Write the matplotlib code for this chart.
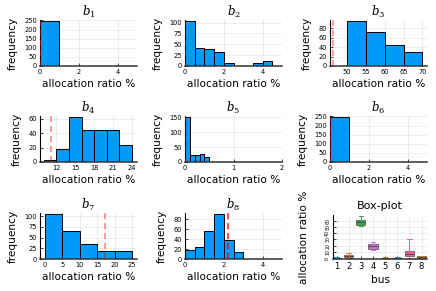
import matplotlib
matplotlib.use("Agg")

import numpy as np
import matplotlib.pyplot as plt

# ---------------------------------------------------------
# data
# ---------------------------------------------------------
b1_edges = [0, 1]
b1_counts = [245]
b2_edges = [0, 0.5, 1, 1.5, 2, 2.5, 3, 3.5, 4, 4.5]
b2_counts = [103, 42, 39, 33, 6, 1, 1, 6, 12]
b3_edges = [50, 55, 60, 65, 70]
b3_counts = [95, 72, 45, 30]
b4_edges = [10, 12, 14, 16, 18, 20, 22, 24]
b4_counts = [3, 18, 62, 45, 45, 45, 24]
b5_edges = [0, 0.1, 0.2, 0.3, 0.4, 0.5]
b5_counts = [150, 25, 25, 28, 18]
b6_edges = [0, 1]
b6_counts = [245]
b7_edges = [0, 5, 10, 15, 20, 25]
b7_counts = [104, 66, 36, 18, 18]
b8_edges = [0, 0.5, 1, 1.5, 2, 2.5, 3]
b8_counts = [19, 24, 57, 90, 39, 15]

mean_lines = [0.0, 0.0, 46.3, 11.1, 0.0, 0.0, 17.3, 2.2]

x_limits = [(0, 5), (0, 5), (45.6, 71.2), (9.4, 24.8), (0, 2), (0, 5), (-1.4, 26.4), (0, 5)]
x_ticks = [[0, 2, 4], [0, 2, 4], [50, 55, 60, 65, 70], [12, 15, 18, 21, 24],
           [0, 1, 2], [0, 2, 4], [0, 5, 10, 15, 20, 25], [0, 2, 4]]
y_ticks = [[0, 50, 100, 150, 200, 250], [0, 25, 50, 75, 100], [0, 20, 40, 60, 80],
           [0, 20, 40, 60], [0, 50, 100, 150], [0, 50, 100, 150, 200, 250],
           [0, 25, 50, 75, 100], [0, 20, 40, 60, 80]]

buses = [1, 2, 3, 4, 5, 6, 7, 8]
box_q1 = [0.0, 1.0, 53, 15, 0.0, 0.0, 2.6, 0.5]
box_med = [0.3, 3.0, 57, 19, 0.2, 0.2, 6.0, 1.5]
box_q3 = [0.6, 5.5, 61, 23, 0.8, 0.8, 11.5, 2.6]
box_lo = [0.0, 0.0, 51, 13, 0.0, 0.0, 0.0, 0.0]
box_hi = [1.0, 8.0, 68, 25, 1.5, 1.5, 30.0, 3.0]

# Plots.jl default palette
palette = ["#009AFA", "#E36F47", "#3EA44E", "#C371D2", "#AC8E18", "#00AAAE", "#ED5E93", "#C68225"]
red_alpha = [0.6, 0.6, 0.5, 0.5, 0.6, 0.6, 0.5, 0.9]

hists = [(b1_edges, b1_counts), (b2_edges, b2_counts), (b3_edges, b3_counts),
         (b4_edges, b4_counts), (b5_edges, b5_counts), (b6_edges, b6_counts),
         (b7_edges, b7_counts), (b8_edges, b8_counts)]

plt.rcParams["font.family"] = ["DejaVu Sans"]
plt.rcParams["mathtext.fontset"] = "dejavuserif"

W, H = 436, 291
fig = plt.figure(figsize=(W / 100, H / 100), dpi=100)

col_left = [40, 185, 330]
row_bottom = [66, 162, 259]
ax_w, ax_h = 97, 46


def style_axes(ax):
    for side in ("top", "right"):
        ax.spines[side].set_visible(False)
    ax.spines["left"].set_color("black")
    ax.spines["left"].set_linewidth(0.8)
    ax.spines["bottom"].set_color("#333333")
    ax.spines["bottom"].set_linewidth(1.1)
    ax.tick_params(axis="both", direction="in", length=2, width=0.5,
                   labelsize=4.8, pad=2)
    ax.grid(True, color="black", alpha=0.1, linewidth=0.5)
    ax.set_axisbelow(True)


for i, (edges, counts) in enumerate(hists):
    r, c = divmod(i, 3)
    ax = fig.add_axes([col_left[c] / W, 1 - row_bottom[r] / H, ax_w / W, ax_h / H])
    edges = np.asarray(edges, dtype=float)
    ax.bar(edges[:-1], counts, width=np.diff(edges), align="edge",
           color=palette[0], edgecolor="black", linewidth=0.7)
    ax.axvline(mean_lines[i], color="red", linestyle=(0, (4, 2.5)),
               linewidth=1.1, alpha=red_alpha[i], zorder=3)
    ax.set_xlim(*x_limits[i])
    ax.set_ylim(0, max(counts) * 1.03)
    ax.set_xticks(x_ticks[i])
    ax.set_yticks(y_ticks[i])
    style_axes(ax)
    ax.set_title(r"$b_{%d}$" % (i + 1), fontsize=8.5, pad=2.5)
    ax.set_xlabel("allocation ratio %", fontsize=7.6, labelpad=3)
    ax.set_ylabel("frequency", fontsize=7.6, labelpad=5)

# box-plot panel
ax = fig.add_axes([333 / W, 1 - 259 / H, 94 / W, 44 / H])
stats = []
for k in range(len(buses)):
    stats.append(dict(q1=box_q1[k], med=box_med[k], q3=box_q3[k],
                      whislo=box_lo[k], whishi=box_hi[k], fliers=[]))
bp = ax.bxp(stats, positions=buses, widths=0.75, patch_artist=True,
            showfliers=False, showcaps=True)
for k, patch in enumerate(bp["boxes"]):
    patch.set_facecolor(palette[k])
    patch.set_edgecolor("#333333")
    patch.set_linewidth(0.4)
for k in range(len(buses)):
    for w in bp["whiskers"][2 * k:2 * k + 2] + bp["caps"][2 * k:2 * k + 2]:
        w.set_color(palette[k])
        w.set_linewidth(0.7)
    bp["medians"][k].set_color("#333333")
    bp["medians"][k].set_linewidth(0.5)
ax.set_xlim(0.7, 8.45)
ax.set_ylim(-1.5, 69)
ax.set_xticks(buses)
ax.set_xticklabels([str(b) for b in buses])
ax.set_yticks([0, 10, 20, 30, 40, 50, 60])
style_axes(ax)
ax.tick_params(axis="x", labelsize=6)
ax.tick_params(axis="y", labelsize=3.4)
for lab in ax.get_yticklabels():
    lab.set_rotation(90)
    lab.set_va("center")
ax.set_title("Box-plot", fontsize=8, pad=4)
ax.set_xlabel("bus", fontsize=7.6, labelpad=3)
ax.set_ylabel("allocation ratio %", fontsize=7.6, labelpad=12)

fig.savefig("out.png", dpi=100)
